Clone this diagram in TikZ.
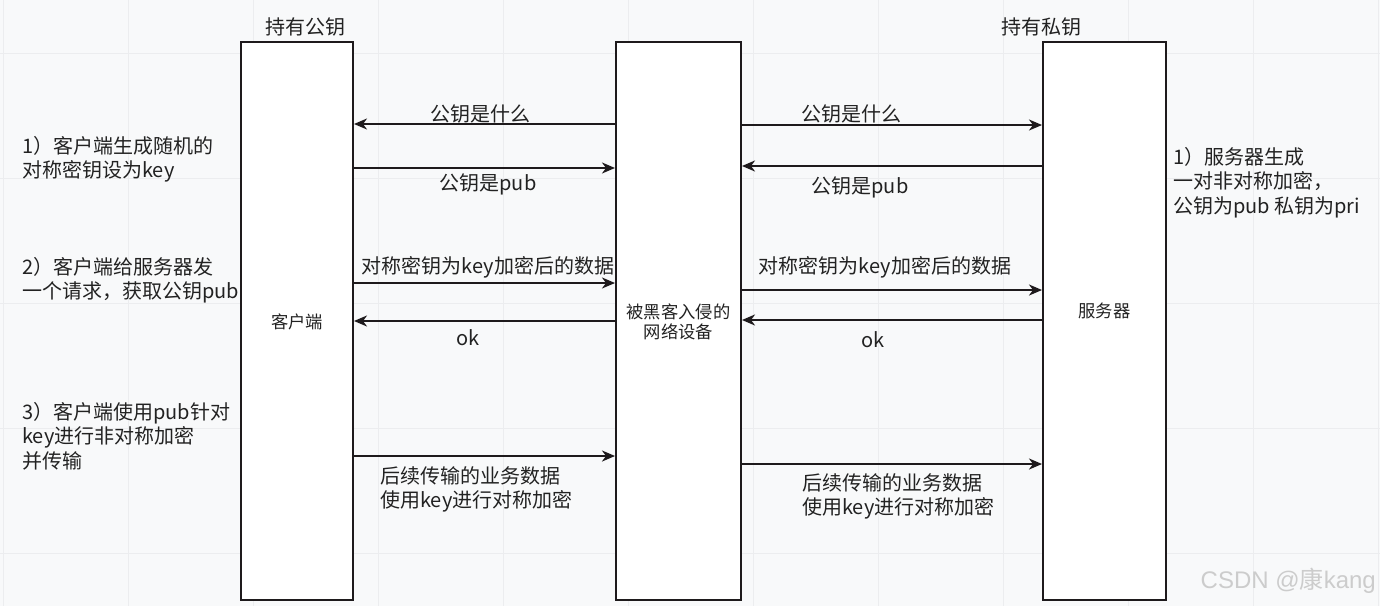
\documentclass[tikz,border=0pt]{standalone}
\usepackage{fontspec}
\setmainfont{Noto Sans CJK SC}
\usetikzlibrary{arrows.meta}
\definecolor{bgc}{HTML}{F8F9FA}
\definecolor{gridc}{HTML}{ECEDEF}
\definecolor{ink}{HTML}{1E1A1C}
\definecolor{txt}{HTML}{222222}
\tikzset{
  lane/.style={draw=ink, line width=2pt, fill=white, minimum width=112pt, minimum height=558pt, inner sep=0pt},
  arr/.style={draw=ink, line width=2pt, -{Stealth[length=13pt,width=11pt,inset=4pt]}},
  lbl/.style={text=txt, font=\fontsize{20}{24.5}\selectfont, inner sep=0pt},
  small/.style={text=txt, font=\fontsize{17.3}{20.5}\selectfont, inner sep=0pt, align=center},
  para/.style={text=txt, font=\fontsize{20}{24.5}\selectfont, inner sep=0pt, align=left, anchor=north west},
}
\begin{document}
\begin{tikzpicture}[x=1pt,y=-1pt]
\fill[bgc] (0,0) rectangle (1380,606);
\useasboundingbox (0,0) rectangle (1380,606);
\foreach \gx in {3,128,...,1378} \draw[gridc, line width=1pt] (\gx,0) -- (\gx,606);
\foreach \gy in {53,178,...,606} \draw[gridc, line width=1pt] (0,\gy) -- (1380,\gy);

\node[lane, minimum width=112pt] (client) at (297,321) {};
\node[lane, minimum width=125pt] (mid) at (678.5,321) {};
\node[lane, minimum width=123pt] (server) at (1104.5,321) {};

\node[small] (clientlbl) at (297,322) {客户端};
\node[small] (midlbl) at (678.5,322) {被黑客入侵的\\网络设备};
\node[small] (serverlbl) at (1104.5,311) {服务器};

\node[lbl] (t1) at (305,27) {持有公钥};
\node[lbl] (t2) at (1041,27) {持有私钥};

% left side arrows
\draw[arr] (mid.west|-0,124) -- (client.east|-0,124);
\draw[arr] (client.east|-0,168) -- (mid.west|-0,168);
\draw[arr] (client.east|-0,283) -- (mid.west|-0,283);
\draw[arr] (mid.west|-0,321) -- (client.east|-0,321);
\draw[arr] (client.east|-0,456) -- (mid.west|-0,456);
% right side arrows
\draw[arr] (mid.east|-0,125) -- (server.west|-0,125);
\draw[arr] (server.west|-0,166) -- (mid.east|-0,166);
\draw[arr] (mid.east|-0,290) -- (server.west|-0,290);
\draw[arr] (server.west|-0,320) -- (mid.east|-0,320);
\draw[arr] (mid.east|-0,464) -- (server.west|-0,464);

\node[lbl] (l1) at (480,114) {公钥是什么};
\node[lbl] (l2) at (488,184) {公钥是pub};
\node[lbl] (l3) at (488,267) {对称密钥为key加密后的数据};
\node[lbl] (l4) at (468,338) {ok};
\node[para] (l5) at (380,466) {后续传输的业务数据\\使用key进行对称加密};

\node[lbl] (r1) at (851,114) {公钥是什么};
\node[lbl] (r2) at (860,187) {公钥是pub};
\node[lbl] (r3) at (885,267) {对称密钥为key加密后的数据};
\node[lbl] (r4) at (873,340) {ok};
\node[para] (r5) at (802,473) {后续传输的业务数据\\使用key进行对称加密};

\node[para] (p1) at (22,136) {1）客户端生成随机的\\对称密钥设为key};
\node[para] (p2) at (22,257) {2）客户端给服务器发\\一个请求，获取公钥pub};
\node[para] (p3) at (22,402) {3）客户端使用pub针对\\key进行非对称加密\\并传输};
\node[para] (p4) at (1173,147) {1）服务器生成\\一对非对称加密，\\公钥为pub 私钥为pri};

\node[text=gray!40, font={\fontspec{Liberation Sans}\fontsize{24}{26}\selectfont}, inner sep=0pt, anchor=east] (wm) at (1376,581) {CSDN @{\fontspec{Noto Sans CJK SC}康}kang};
\end{tikzpicture}
\end{document}
